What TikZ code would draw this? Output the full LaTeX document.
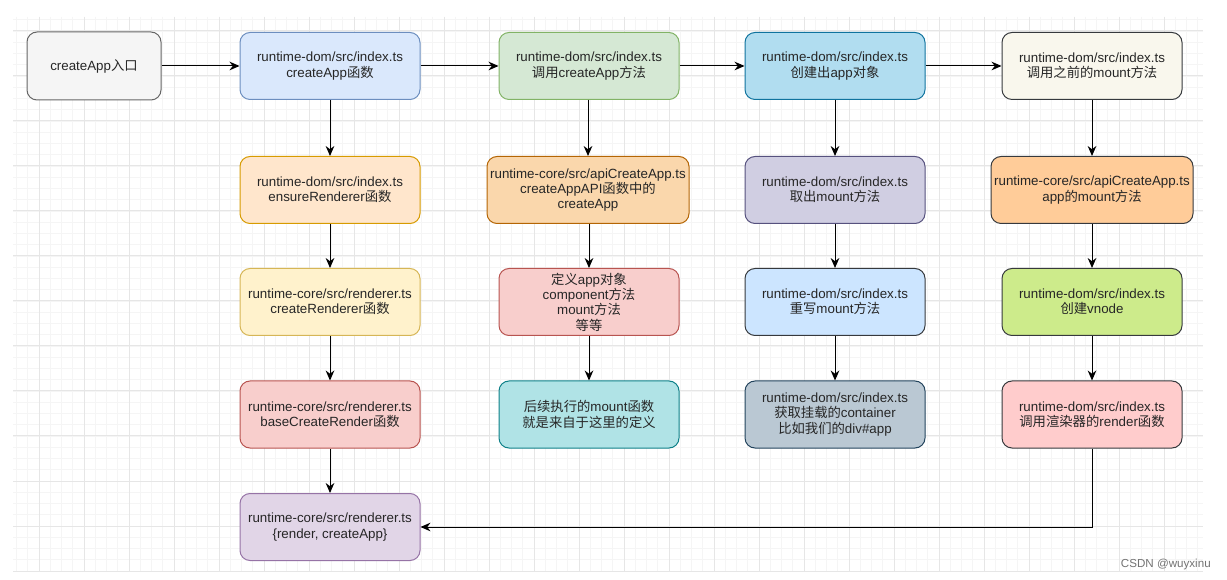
\documentclass[tikz,border=0pt]{standalone}
\usepackage{fontspec}
\setmainfont{Liberation Sans}
\newfontfamily\cjk{Noto Sans CJK SC}
\newcommand\zh[1]{{\cjk #1}}
\usetikzlibrary{arrows.meta}
\definecolor{gfill}{HTML}{F5F5F5}\definecolor{gline}{HTML}{666666}
\definecolor{bfill}{HTML}{DAE8FC}\definecolor{bline}{HTML}{6C8EBF}
\definecolor{grfill}{HTML}{D5E8D4}\definecolor{grline}{HTML}{82B366}
\definecolor{cyfill}{HTML}{B1DDF0}\definecolor{cyline}{HTML}{10739E}
\definecolor{crfill}{HTML}{F9F7ED}\definecolor{dkline}{HTML}{36393D}
\definecolor{orfill}{HTML}{FFE6CC}\definecolor{orline}{HTML}{D79B00}
\definecolor{or2fill}{HTML}{FAD7AC}\definecolor{or2line}{HTML}{B46504}
\definecolor{pufill}{HTML}{D0CEE2}\definecolor{puline}{HTML}{56517E}
\definecolor{or3fill}{HTML}{FFCC99}
\definecolor{yefill}{HTML}{FFF2CC}\definecolor{yeline}{HTML}{D6B656}
\definecolor{rdfill}{HTML}{F8CECC}\definecolor{rdline}{HTML}{B85450}
\definecolor{lbfill}{HTML}{CCE5FF}
\definecolor{lgfill}{HTML}{CDEB8B}
\definecolor{tefill}{HTML}{B0E3E6}\definecolor{teline}{HTML}{0E8088}
\definecolor{slfill}{HTML}{BAC8D3}\definecolor{slline}{HTML}{23445D}
\definecolor{pkfill}{HTML}{FFCCCC}
\definecolor{lvfill}{HTML}{E1D5E7}\definecolor{lvline}{HTML}{9673A6}
\definecolor{gridminor}{HTML}{F5F5F5}\definecolor{gridmajor}{HTML}{E6E6E6}
\tikzset{
  box/.style={draw, rounded corners=7.5pt, line width=0.75pt, minimum width=135pt,
    minimum height=50.25pt, inner sep=0pt, align=center,
    font=\fontsize{10}{11.5}\selectfont, text=black!85},
  widebox/.style={box, minimum width=151.5pt},
  conn/.style={line width=0.75pt, -{Stealth[length=7.5pt,width=6.5pt]}},
  gminor/.style={gridminor, line width=0.6pt},
  gmajor/.style={gridmajor, line width=0.75pt},
}
\begin{document}
\begin{tikzpicture}[x=0.75pt,y=-0.75pt]
\useasboundingbox (0,0) rectangle (1227,580);
\fill[white] (0,0) rectangle (1227,580);
% grid
\foreach \i in {0,...,105} \draw[gminor] ({16.5+11.25*\i},17) -- ({16.5+11.25*\i},571);
\foreach \j in {0,...,48} \draw[gminor] (13,{19.75+11.25*\j}) -- (1203,{19.75+11.25*\j});
\foreach \k in {0,...,25} \draw[gmajor] ({39+45*\k},17) -- ({39+45*\k},571);
\foreach \k in {-1,...,11} \draw[gmajor] (13,{76+45*\k}) -- (1203,{76+45*\k});
% nodes
\node[box, fill=gfill, draw=gline, minimum width=100.5pt, minimum height=51pt] (a) at (94,66) {createApp\zh{入口}};
\node[box, fill=bfill, draw=bline] (b1) at (330,66) {runtime-dom/src/index.ts\\createApp\zh{函数}};
\node[box, fill=orfill, draw=orline] (b2) at (330,190) {runtime-dom/src/index.ts\\ensureRenderer\zh{函数}};
\node[box, fill=yefill, draw=yeline] (b3) at (330,302) {runtime-core/src/renderer.ts\\createRenderer\zh{函数}};
\node[box, fill=rdfill, draw=rdline] (b4) at (330,414.5) {runtime-core/src/renderer.ts\\baseCreateRender\zh{函数}};
\node[box, fill=lvfill, draw=lvline] (b5) at (330,527) {runtime-core/src/renderer.ts\\\{render, createApp\}};
\node[box, fill=grfill, draw=grline] (c1) at (589,66) {runtime-dom/src/index.ts\\\zh{调用}createApp\zh{方法}};
\node[widebox, fill=or2fill, draw=or2line] (c2) at (588,190) {runtime-core/src/apiCreateApp.ts\\createAppAPI\zh{函数中的}\\createApp};
\node[box, fill=rdfill, draw=rdline] (c3) at (589,302) {\zh{定义}app\zh{对象}\\component\zh{方法}\\mount\zh{方法}\\\zh{等等}};
\node[box, fill=tefill, draw=teline] (c4) at (589,414.5) {\zh{后续执行的}mount\zh{函数}\\\zh{就是来自于这里的定义}};
\node[box, fill=cyfill, draw=cyline] (d1) at (835,66) {runtime-dom/src/index.ts\\\zh{创建出}app\zh{对象}};
\node[box, fill=pufill, draw=puline] (d2) at (835,190) {runtime-dom/src/index.ts\\\zh{取出}mount\zh{方法}};
\node[box, fill=lbfill, draw=dkline] (d3) at (835,302) {runtime-dom/src/index.ts\\\zh{重写}mount\zh{方法}};
\node[box, fill=slfill, draw=slline] (d4) at (835,414.5) {runtime-dom/src/index.ts\\\zh{获取挂载的}container\\\zh{比如我们的}div\#app};
\node[box, fill=crfill, draw=dkline] (e1) at (1092,66) {runtime-dom/src/index.ts\\\zh{调用之前的}mount\zh{方法}};
\node[widebox, fill=or3fill, draw=dkline] (e2) at (1092,190) {runtime-core/src/apiCreateApp.ts\\app\zh{的}mount\zh{方法}};
\node[box, fill=lgfill, draw=dkline] (e3) at (1092,302) {runtime-dom/src/index.ts\\\zh{创建}vnode};
\node[box, fill=pkfill, draw=dkline] (e4) at (1092,414.5) {runtime-dom/src/index.ts\\\zh{调用渲染器的}render\zh{函数}};
% connectors
\draw[conn] (a) -- (b1);
\draw[conn] (b1) -- (c1);
\draw[conn] (c1) -- (d1);
\draw[conn] (d1) -- (e1);
\draw[conn] (b1) -- (b2);
\draw[conn] (b2) -- (b3);
\draw[conn] (b3) -- (b4);
\draw[conn] (b4) -- (b5);
\draw[conn] (c1.south -| c2) -- (c2);
\draw[conn] (c2.south -| c3) -- (c3);
\draw[conn] (c3) -- (c4);
\draw[conn] (d1) -- (d2);
\draw[conn] (d2) -- (d3);
\draw[conn] (d3) -- (d4);
\draw[conn] (e1) -- (e2);
\draw[conn] (e2) -- (e3);
\draw[conn] (e3) -- (e4);
\draw[conn] (e4.south) |- (b5.east);
% watermark
\node[anchor=east, inner sep=0pt, text=black!55, font=\fontsize{8.7}{10}\selectfont] (wm) at (1211,564) {CSDN @wuyxinu};
\end{tikzpicture}
\end{document}
